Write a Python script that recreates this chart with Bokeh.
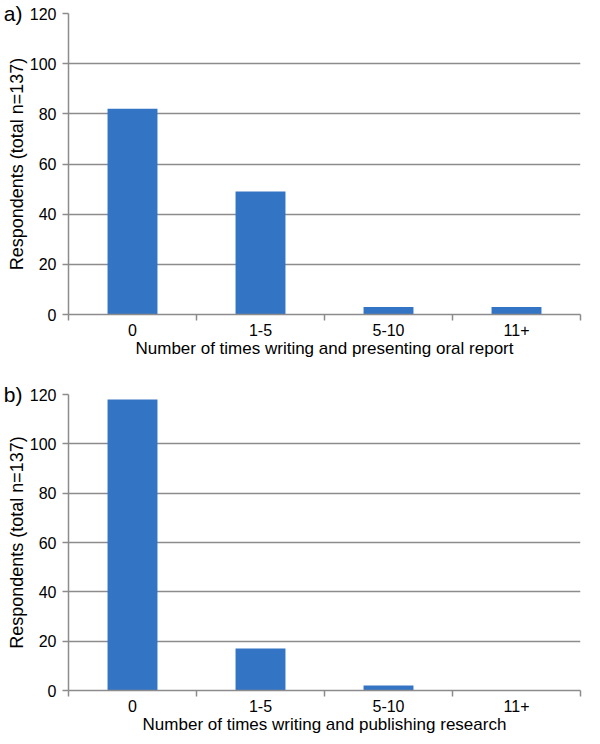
from bokeh.plotting import figure
from bokeh.models import FixedTicker, LinearAxis, Range1d
from bokeh.layouts import column
from bokeh.embed import file_html
from bokeh.resources import INLINE

# ---- data ----
categories = ["0", "1-5", "5-10", "11+"]
oral_report = [82, 49, 3, 3]
publishing = [118, 17, 2, 0]
y_ticks = [0, 20, 40, 60, 80, 100, 120]
panel_labels = ["a)", "b)"]
x_titles = ["Number of times writing and presenting oral report",
            "Number of times writing and publishing research"]
y_title = "Respondents (total n=137)"

FONT = "Liberation Sans"
BAR = "#3474C4"
GRID = "#8c8c8c"


def make_panel(values, panel, xtitle, height, top_border):
    n = len(categories)
    ymax = y_ticks[-1]
    p = figure(width=584, height=height,
               x_range=Range1d(0, n), y_range=Range1d(0, ymax),
               output_backend="svg", toolbar_location=None,
               min_border_left=60, min_border_right=4,
               min_border_top=top_border, min_border_bottom=0)
    xs = [i + 0.5 for i in range(n)]
    p.vbar(x=xs, top=values, width=0.39, fill_color=BAR, line_color=None)

    p.outline_line_color = None
    p.background_fill_color = "white"
    p.border_fill_color = "white"

    # x axis: labels at category centres, separator ticks at boundaries
    xa = p.xaxis[0]
    xa.ticker = FixedTicker(ticks=xs, minor_ticks=list(range(n + 1)))
    xa.major_label_overrides = {x: c for x, c in zip(xs, categories)}
    xa.major_tick_line_color = None
    xa.major_tick_out = 0
    xa.major_tick_in = 0
    xa.minor_tick_line_color = GRID
    xa.minor_tick_line_width = 1.5
    xa.minor_tick_out = 6
    xa.minor_tick_in = 0
    xa.axis_line_color = GRID
    xa.axis_line_width = 1.5
    xa.major_label_text_font = FONT
    xa.major_label_text_font_size = "16px"
    xa.major_label_text_color = "black"
    xa.major_label_standoff = 3
    xa.axis_label = xtitle
    xa.axis_label_text_font = FONT
    xa.axis_label_text_font_size = "17px"
    xa.axis_label_text_font_style = "normal"
    xa.axis_label_text_color = "black"
    xa.axis_label_standoff = 0

    ya = p.yaxis[0]
    ya.ticker = FixedTicker(ticks=y_ticks)
    ya.minor_tick_line_color = None
    ya.major_tick_line_color = GRID
    ya.major_tick_line_width = 1.5
    ya.major_tick_out = 6
    ya.major_tick_in = 0
    ya.axis_line_color = GRID
    ya.axis_line_width = 1.5
    ya.major_label_text_font = FONT
    ya.major_label_text_font_size = "16px"
    ya.major_label_text_color = "black"
    ya.major_label_standoff = 6
    ya.axis_label = y_title
    ya.axis_label_text_font = FONT
    ya.axis_label_text_font_size = "18px"
    ya.axis_label_text_font_style = "normal"
    ya.axis_label_text_color = "black"
    ya.axis_label_standoff = 0

    p.xgrid.grid_line_color = None
    p.ygrid.ticker = FixedTicker(ticks=y_ticks)
    p.ygrid.grid_line_color = GRID
    p.ygrid.grid_line_width = 1.5

    # panel letter ("a)" / "b)") level with the top gridline, in the left margin
    tag = LinearAxis(ticker=FixedTicker(ticks=[ymax]),
                     major_label_overrides={ymax: panel},
                     axis_line_color=None, major_tick_line_color=None,
                     minor_tick_line_color=None, major_tick_out=0,
                     major_tick_in=0, minor_tick_out=0, minor_tick_in=0,
                     major_label_standoff=-19,
                     major_label_text_font=FONT,
                     major_label_text_font_size="21px",
                     major_label_text_color="black")
    p.add_layout(tag, "left")
    return p


p1 = make_panel(oral_report, panel_labels[0], x_titles[0], 360, 13)
p2 = make_panel(publishing, panel_labels[1], x_titles[1], 376, 34)
layout = column(p1, p2, spacing=0)

open("out.html", "w").write(file_html(layout, INLINE))
